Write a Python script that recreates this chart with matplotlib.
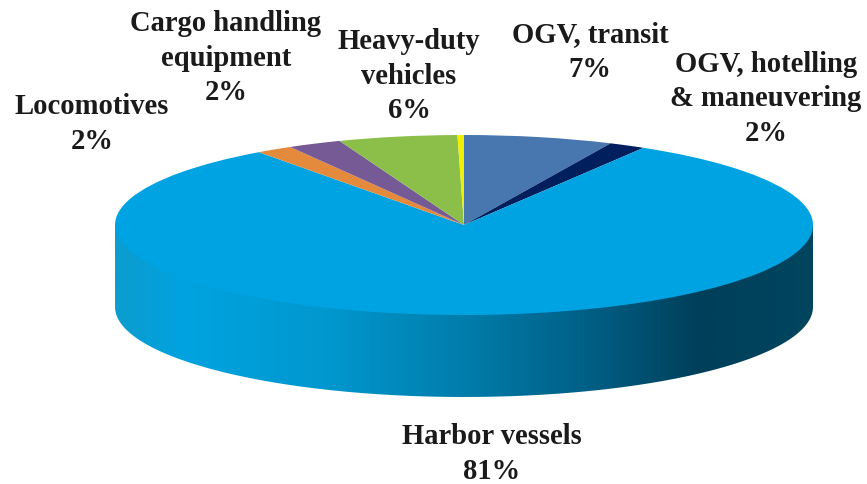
import numpy as np
import matplotlib
matplotlib.use("Agg")
import matplotlib.pyplot as plt
from matplotlib.colors import LinearSegmentedColormap
from matplotlib.path import Path
from matplotlib.patches import PathPatch

W, H = 867, 485

slices = ["OGV, transit", "OGV, hotelling & maneuvering", "Harbor vessels",
          "Locomotives", "Cargo handling equipment", "Heavy-duty vehicles", "Other"]
shares = [6.9, 1.7, 81.4, 1.7, 2.5, 5.5, 0.3]
colors = ["#4877b0", "#001f5c", "#00a3e2", "#e38a3c", "#765a96", "#8bbf4a", "#f0f000"]

labels = ["OGV, transit\n7%", "OGV, hotelling\n& maneuvering\n2%", "Harbor vessels\n81%",
          "Locomotives\n2%", "Cargo handling\nequipment\n2%", "Heavy-duty\nvehicles\n6%"]
label_x = [590, 766, 492, 92, 226, 409]
label_y = [52, 99, 454, 124, 58, 76]

# side wall shading, left to right
grad_pos = [0.0, 0.1, 0.3, 0.5, 0.68, 0.84, 1.0]
grad_col = ["#0d9ccf", "#00a3e0", "#0098cf", "#007dab", "#005f85", "#003f5a", "#00455f"]

cx, cy = 464, 226
rx, ry = 349, 90
depth = 82

fig = plt.figure(figsize=(W / 100, H / 100), dpi=100)
ax = fig.add_axes([0, 0, 1, 1])

ax.pie(shares, colors=colors, startangle=90, counterclock=False, radius=1,
       wedgeprops={"linewidth": 0})
ax.set_aspect("auto")

# side wall: runs up behind the top face so no seam shows along the rim
d = depth / ry
t = np.linspace(np.pi, 2 * np.pi, 200)
verts = np.r_[[[-1, 0]], np.c_[np.cos(t), np.sin(t) - d], [[1, 0]], [[-1, 0]]]
wall = PathPatch(Path(verts), fc="none", ec="none")
ax.add_patch(wall)
cmap = LinearSegmentedColormap.from_list("wall", list(zip(grad_pos, grad_col)))
img = ax.imshow(np.linspace(0, 1, 512)[None, :], cmap=cmap, aspect="auto",
                extent=[-1, 1, -1 - d, 0], zorder=0)
img.set_clip_path(wall)
ax.set_xlim(-cx / rx, (W - cx) / rx)
ax.set_ylim(-(H - cy) / ry, cy / ry)
ax.set_axis_off()

for text, x, y in zip(labels, label_x, label_y):
    fig.text(x / W, 1 - y / H, text, ha="center", va="center", color="#1a1a1a",
             family="Liberation Serif", fontweight="bold", fontsize=20.6, linespacing=1.37)

fig.savefig("out.png", dpi=100)
